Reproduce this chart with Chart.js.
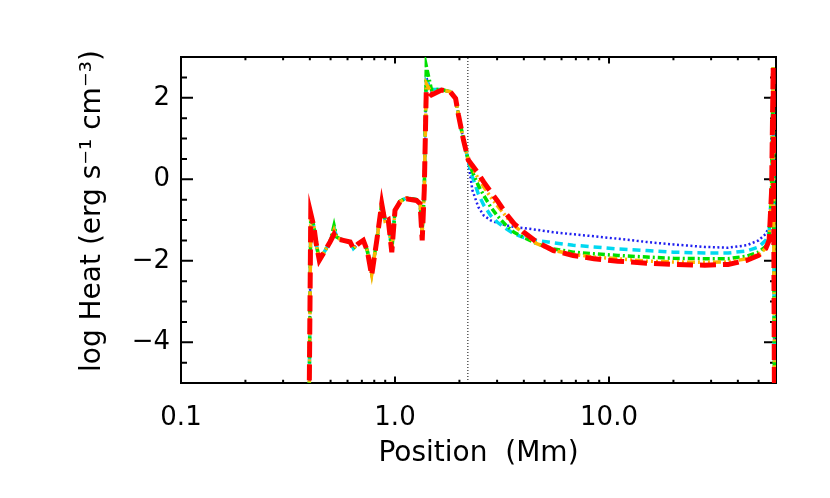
<!DOCTYPE html>
<html>
<head>
<meta charset="utf-8">
<script src="https://cdn.jsdelivr.net/npm/chart.js@4.4.0/dist/chart.umd.min.js"></script>
<style>
  html, body { margin: 0; padding: 0; background: #fff; }
  #wrap { width: 830px; height: 498px; }
</style>
</head>
<body>
<div id="wrap"><canvas id="heat" width="830" height="498"></canvas></div>
<script>
// position along the loop (Mm), shared by every run
const positions = [
  0.397, 0.404, 0.418, 0.427, 0.443, 0.462, 0.497, 0.519, 0.534, 0.573,
  0.617, 0.639, 0.674, 0.711, 0.742, 0.778, 0.822, 0.867, 0.898, 0.93,
  0.966, 1.0, 1.055, 1.13, 1.26, 1.31, 1.34, 1.37, 1.40, 1.48,
  1.65, 1.81, 1.92, 1.98, 2.09, 2.2,
  2.3, 2.45, 2.6, 2.8, 3.0, 3.3, 3.6, 4.0, 4.6, 5.5,
  6.8, 8.5, 11, 15, 20, 28, 36, 44, 50, 54,
  56, 57.5, 58.5, 59.3
];

// log heating rate for each run
const heatBlue = [
  -5.5, -0.84, -1.17, -1.54, -1.99, -1.83, -1.54, -1.2, -1.42, -1.5,
  -1.54, -1.7, -1.58, -1.5, -1.75, -2.3, -1.5, -0.6, -1.0, -1.0,
  -1.75, -0.76, -0.54, -0.46, -0.5, -0.58, -1.4, -0.3, 2.5, 2.15,
  2.2, 2.15, 1.98, 1.57, 0.96, 0.4,
  -0.27, -0.68, -0.89, -1.01, -1.07, -1.13, -1.17, -1.2, -1.24, -1.3,
  -1.35, -1.4, -1.46, -1.54, -1.6, -1.66, -1.68, -1.62, -1.5, -1.34,
  -1.17, -0.1, 2.75, -5.5
];
const heatCyan = [
  -5.5, -0.84, -1.17, -1.54, -1.99, -1.83, -1.54, -1.2, -1.42, -1.5,
  -1.54, -1.7, -1.58, -1.5, -1.75, -2.3, -1.5, -0.6, -1.0, -1.0,
  -1.75, -0.76, -0.54, -0.46, -0.5, -0.58, -1.2, -0.3, 2.4, 2.2,
  2.2, 2.15, 1.98, 1.57, 0.96, 0.45,
  0.06, -0.36, -0.64, -0.89, -1.05, -1.21, -1.34, -1.43, -1.5, -1.56,
  -1.62, -1.66, -1.71, -1.75, -1.79, -1.81, -1.81, -1.76, -1.66, -1.5,
  -1.3, -0.2, 2.75, -5.5
];
const heatGreen = [
  -5.5, -0.84, -1.17, -1.54, -1.99, -1.83, -1.54, -1.13, -1.42, -1.5,
  -1.54, -1.7, -1.58, -1.5, -1.75, -2.3, -1.5, -0.6, -1.0, -1.0,
  -1.75, -0.76, -0.54, -0.46, -0.5, -0.58, -1.3, -0.3, 2.78, 2.2,
  2.2, 2.15, 1.98, 1.57, 0.96, 0.47,
  0.18, -0.15, -0.40, -0.68, -0.89, -1.13, -1.3, -1.43, -1.58, -1.71,
  -1.79, -1.83, -1.87, -1.91, -1.94, -1.95, -1.95, -1.89, -1.79, -1.65,
  -1.46, -0.3, 2.75, -5.5
];
const heatOrange = [
  -5.5, -0.84, -1.17, -1.54, -1.99, -1.83, -1.54, -1.25, -1.44, -1.5,
  -1.54, -1.7, -1.58, -1.5, -1.75, -2.34, -1.5, -0.6, -1.03, -1.0,
  -1.77, -0.76, -0.55, -0.47, -0.51, -0.59, -1.35, -0.28, 2.35, 2.12,
  2.19, 2.15, 1.98, 1.57, 0.96, 0.47,
  0.26, 0.02, -0.19, -0.44, -0.64, -0.91, -1.13, -1.34, -1.58, -1.75,
  -1.84, -1.91, -1.95, -2.01, -2.03, -2.04, -2.03, -1.95, -1.84, -1.7,
  -1.5, -0.3, 2.75, -5.5
];
const heatRed = [
  -5.5, -0.84, -1.17, -1.54, -1.99, -1.83, -1.54, -1.35, -1.46, -1.5,
  -1.54, -1.7, -1.58, -1.5, -1.75, -2.36, -1.5, -0.6, -1.05, -1.0,
  -1.79, -0.76, -0.56, -0.48, -0.52, -0.6, -1.5, -0.27, 2.19, 2.07,
  2.19, 2.15, 1.98, 1.57, 0.96, 0.47,
  0.34, 0.14, -0.07, -0.31, -0.52, -0.84, -1.09, -1.3, -1.54, -1.75,
  -1.87, -1.95, -2.01, -2.06, -2.09, -2.11, -2.09, -1.99, -1.87, -1.7,
  -1.5, -0.3, 2.75, -5.5
];

// transition region marker
const markerPosition = 2.19;
const yRange = [-5, 3];
const xRange = [0.1, 60.3];

// tick values
const xTickLabels = [0.1, 1, 10];
const xMinorTicks = [0.2, 0.3, 0.4, 0.5, 0.6, 0.7, 0.8, 0.9, 2, 3, 4, 5, 6, 7, 8, 9, 20, 30, 40, 50];
const yTickLabels = [-4, -2, 0, 2];
const yMinorTicks = [-4.5, -3.5, -3, -2.5, -1.5, -1, -0.5, 0.5, 1, 1.5, 2.5];

const pts = arr => positions.map((x, i) => ({ x: x, y: arr[i] }));

const frameTicks = {
  id: 'frameTicks',
  beforeDatasetsDraw(chart) {
    const { ctx, chartArea: a, scales: { x, y } } = chart;
    ctx.save();
    ctx.strokeStyle = '#000';
    ctx.lineWidth = 2;
    ctx.strokeRect(a.left, a.top, a.right - a.left, a.bottom - a.top);
    ctx.beginPath();
    const xt = (v, len) => {
      const p = x.getPixelForValue(v);
      ctx.moveTo(p, a.bottom); ctx.lineTo(p, a.bottom - len);
      ctx.moveTo(p, a.top); ctx.lineTo(p, a.top + len);
    };
    const yt = (v, len) => {
      const p = y.getPixelForValue(v);
      ctx.moveTo(a.left, p); ctx.lineTo(a.left + len, p);
      ctx.moveTo(a.right, p); ctx.lineTo(a.right - len, p);
    };
    xTickLabels.forEach(v => xt(v, 6.5));
    xMinorTicks.forEach(v => xt(v, 3.3));
    yTickLabels.forEach(v => yt(v, 12));
    yMinorTicks.forEach(v => yt(v, 6));
    ctx.stroke();
    ctx.restore();
  }
};

const FONT = 'DejaVu Sans';

new Chart(document.getElementById('heat'), {
  type: 'line',
  data: {
    datasets: [
      { data: pts(heatRed), borderColor: '#ff0000', borderWidth: 5, borderDash: [16, 7], order: 0 },
      { data: pts(heatOrange), borderColor: '#ffb400', borderWidth: 3.5, borderDash: [8, 3, 2, 3, 2, 3, 2, 3], order: 1 },
      { data: pts(heatGreen), borderColor: '#00e000', borderWidth: 3.5, borderDash: [7, 3, 2, 3], order: 2 },
      { data: pts(heatCyan), borderColor: '#00d8f0', borderWidth: 3.5, borderDash: [8, 5], order: 3 },
      { data: pts(heatBlue), borderColor: '#2020f0', borderWidth: 2.5, borderDash: [2, 2.5], order: 4 },
      { data: [{ x: markerPosition, y: yRange[0] }, { x: markerPosition, y: yRange[1] }],
        borderColor: '#000', borderWidth: 1, borderDash: [1, 2], order: 5 }
    ]
  },
  options: {
    responsive: false,
    animation: false,
    devicePixelRatio: 1,
    layout: { padding: { top: 57, right: 54, left: 0, bottom: 0 } },
    elements: { point: { radius: 0 }, line: { tension: 0, fill: false } },
    datasets: { line: { clip: 0 } },
    plugins: { legend: { display: false }, tooltip: { enabled: false } },
    scales: {
      x: {
        type: 'logarithmic',
        min: xRange[0],
        max: xRange[1],
        grid: { display: false, drawTicks: false },
        border: { display: false },
        afterBuildTicks: s => { s.ticks = xTickLabels.map(v => ({ value: v })); },
        afterFit: s => { s.height = 115; },
        ticks: {
          autoSkip: false, maxRotation: 0, padding: 20, color: '#000',
          font: { family: FONT, size: 26 },
          callback: v => (v < 1 ? v.toString() : v.toFixed(1))
        },
        title: {
          display: true, text: 'Position  (Mm)', color: '#000',
          font: { family: FONT, size: 28 }, padding: { top: 0, bottom: 27 }
        }
      },
      y: {
        type: 'linear',
        min: yRange[0],
        max: yRange[1],
        grid: { display: false, drawTicks: false },
        border: { display: false },
        afterBuildTicks: s => { s.ticks = yTickLabels.map(v => ({ value: v })); },
        afterFit: s => { s.width = 181; },
        ticks: {
          autoSkip: false, padding: 11, color: '#000',
          font: { family: FONT, size: 26 },
          callback: v => (v < 0 ? '\u2212' + (-v) : String(v))
        },
        title: {
          display: true, text: '  log Heat (erg s\u207B\u00B9 cm\u207B\u00B3)', color: '#000',
          font: { family: FONT, size: 28 }, padding: { top: 76, bottom: 0 }
        }
      }
    }
  },
  plugins: [frameTicks]
});
</script>
</body>
</html>
